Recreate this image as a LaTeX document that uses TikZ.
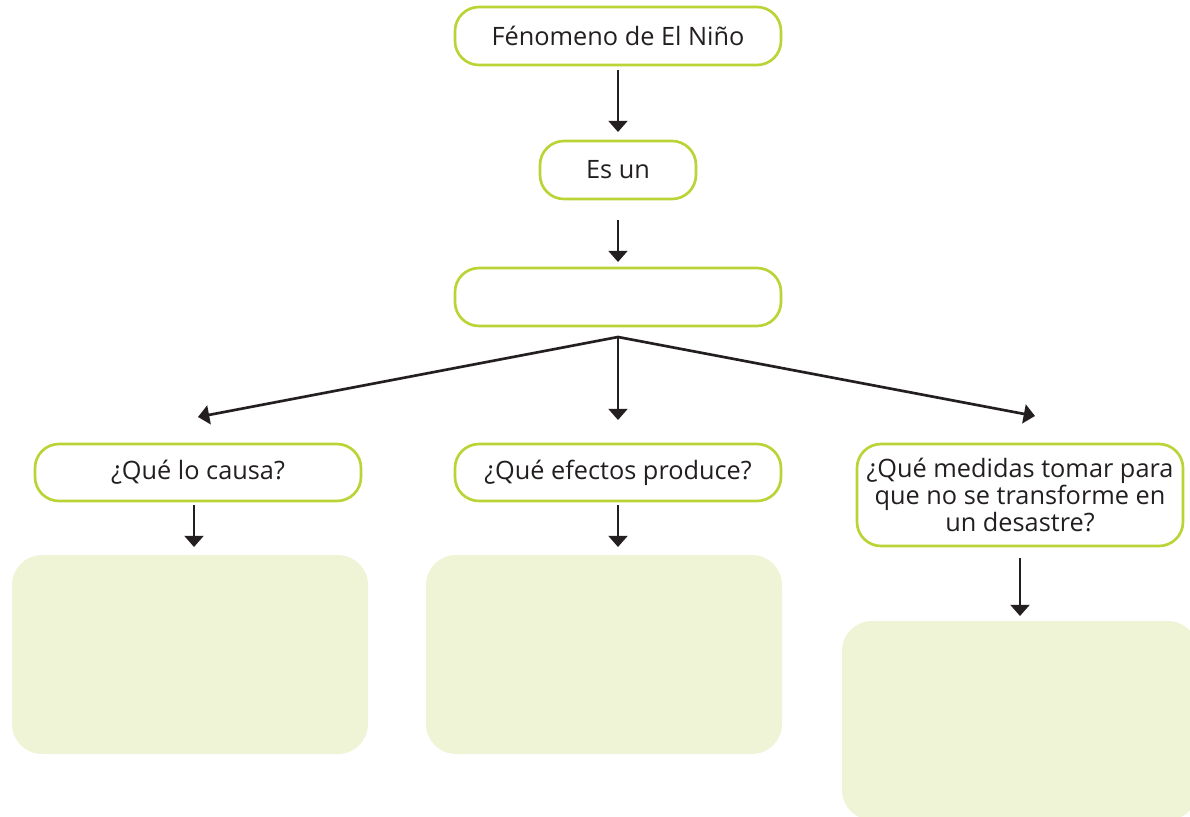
\documentclass[tikz,border=0pt]{standalone}
\usepackage{fontspec}
\setmainfont{Open Sans}
\usetikzlibrary{arrows.meta, positioning, calc}
\definecolor{ninogreen}{RGB}{186,212,54}
\definecolor{ninofill}{RGB}{239,244,214}
\definecolor{ninoink}{RGB}{35,31,32}
\tikzstyle{arrow} = [-{Triangle[width=13.5pt, length=8pt]}, line width=1.9pt, color=ninoink]

\begin{document}
\begin{tikzpicture}[
    node distance=1.9cm and 2.35cm,
    qbox/.style={rectangle, rounded corners=0.6cm, draw=ninogreen, fill=white,
                 minimum width=8.15cm, minimum height=1.45cm, line width=1.9pt,
                 font=\fontsize{18}{19}\selectfont, text=ninoink, align=center,
                 inner sep=2pt, outer sep=0pt},
    answerbox/.style={rectangle, rounded corners=0.75cm, fill=ninofill,
                      minimum width=8.9cm, minimum height=4.975cm, outer sep=0pt}
]
    \clip (0,0) rectangle (29.75,-20.4);
    \useasboundingbox (0,0) rectangle (29.75,-20.4);

    % Top chain
    \node[qbox] (nino) at (15.45,-0.9) {Fénomeno de El Niño};
    \node[qbox, minimum width=3.9cm, below=1.9cm of nino] (esun) {Es un};
    \node[qbox, below=1.725cm of esun] (blank) {};

    % Row of questions
    \node[qbox, minimum height=1.425cm, below=2.95cm of blank] (effects) {¿Qué efectos produce?};
    \node[qbox, minimum height=1.425cm, left=2.35cm of effects] (cause) {¿Qué lo causa?};
    \node[qbox, minimum height=2.55cm, anchor=north west] (measures)
        at ($(effects.north east)+(1.9,0)$)
        {¿Qué medidas tomar para\\que no se transforme en\\un desastre?};

    % Answer areas
    \node[answerbox, below=1.35cm of cause, xshift=-0.2cm] (causefill) {};
    \node[answerbox, below=1.35cm of effects, xshift=-0.35cm] (effectsfill) {};
    \node[answerbox, below=1.875cm of measures] (measuresfill) {};

    % Branch points
    \coordinate (split) at ($(blank.south)+(0,-0.275)$);
    \coordinate (causetip) at ($(cause.north)+(0,0.675)$);
    \coordinate (measurestip) at ($(measures.north)+(0.375,0.7)$);

    % Arrows
    \draw[arrow, shorten <=0.125cm, shorten >=0.225cm] (nino) -- (esun);
    \draw[arrow, shorten <=0.525cm, shorten >=0.15cm] (esun) -- (blank);
    \draw[arrow] (split) -- (causetip);
    \draw[arrow, shorten >=0.6cm] (split) -- (effects.north);
    \draw[arrow] (split) -- (measurestip);
    \draw[arrow, shorten <=0.1cm, shorten >=0.2cm] ([xshift=-0.1cm]cause.south) -- ([xshift=-0.1cm]cause.south |- causefill.north);
    \draw[arrow, shorten <=0.1cm, shorten >=0.2cm] (effects.south) -- (effects.south |- effectsfill.north);
    \draw[arrow, shorten <=0.3cm, shorten >=0.125cm] (measures.south) -- (measures.south |- measuresfill.north);

\end{tikzpicture}
\end{document}
